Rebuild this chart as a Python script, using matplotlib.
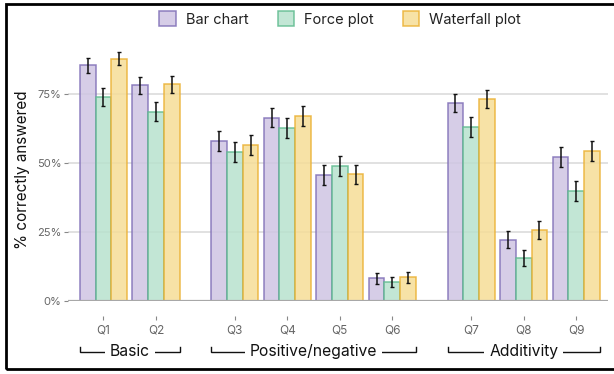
import matplotlib
matplotlib.use("Agg")
import matplotlib.pyplot as plt
import matplotlib.transforms as mtransforms
from matplotlib.patches import Patch, Rectangle
import numpy as np

plt.rcParams['font.family'] = ['Inter', 'DejaVu Sans']

questions = ["Q1", "Q2", "Q3", "Q4", "Q5", "Q6", "Q7", "Q8", "Q9"]
positions = [0, 1, 2.5, 3.5, 4.5, 5.5, 7, 8, 9]

series_names = ["Bar chart", "Force plot", "Waterfall plot"]
bar_chart = [85.3, 78.1, 57.8, 66.3, 45.7, 8.3, 71.6, 22.2, 52.1]
force_plot = [73.8, 68.5, 53.8, 62.5, 48.8, 6.8, 62.9, 15.5, 39.7]
waterfall_plot = [87.7, 78.5, 56.4, 66.9, 45.8, 8.6, 73.1, 25.6, 54.2]

bar_chart_err = [2.6, 3.1, 3.6, 3.5, 3.7, 2.0, 3.3, 3.0, 3.7]
force_plot_err = [3.3, 3.5, 3.6, 3.6, 3.7, 1.9, 3.6, 2.8, 3.6]
waterfall_plot_err = [2.4, 3.1, 3.6, 3.5, 3.5, 2.0, 3.3, 3.2, 3.6]

groups = ["Basic", "Positive/negative", "Additivity"]
group_spans = [(0, 1), (2.5, 5.5), (7, 9)]

edge_colors = ["#7E6DB6", "#5DBB8E", "#EBB031"]
face_colors = ["#CFC5E3", "#B8E2CE", "#F6DD97"]

fig = plt.figure(figsize=(6.14, 3.74), dpi=100)
W, H = 614, 374
ax = fig.add_axes([68 / W, 1 - 301 / H, (608 - 68) / W, (301 - 33) / H])

width = 0.3
x = np.array(positions)
values = [bar_chart, force_plot, waterfall_plot]
errors = [bar_chart_err, force_plot_err, waterfall_plot_err]

for yv in [25, 50, 75, 100]:
    ax.axhline(yv, color="#dcdcdc", lw=1.2, zorder=0)

for i, (vals, errs) in enumerate(zip(values, errors)):
    xs = x + (i - 1) * width
    ax.bar(xs, vals, width=width, facecolor=face_colors[i], alpha=0.85,
           edgecolor=edge_colors[i], linewidth=1.1, zorder=2)
    ax.errorbar(xs, vals, yerr=errs, fmt="none", ecolor="#111111",
                elinewidth=1.1, capsize=1.6, capthick=1.0, zorder=4)

ax.axhline(0, color="#a8a8a8", lw=1.6, zorder=3)

ax.set_xlim(-0.674, 9.604)
ax.set_ylim(0, 97)
ax.set_yticks([0, 25, 50, 75])
ax.set_yticklabels(["0%", "25%", "50%", "75%"])
ax.set_xticks(positions)
ax.set_xticklabels(questions)

for s in ["top", "right", "left"]:
    ax.spines[s].set_visible(False)
ax.spines["bottom"].set_position(("outward", 11))
ax.spines["bottom"].set_visible(False)

ax.tick_params(axis="y", length=3, width=0.8, color="#888888",
               labelsize=8, labelcolor="#666666", pad=1.5)
ax.tick_params(axis="x", length=3, width=0.8, color="#888888",
               labelsize=8.5, labelcolor="#666666", pad=3)

fig.text(22.5 / W, 1 - 170 / H, "% correctly answered", rotation=90,
         ha="center", va="center", fontsize=11, color="#111111")

# group brackets beneath the question labels
trans = mtransforms.blended_transform_factory(ax.transData, fig.transFigure)
y_line = 1 - 351.5 / H
y_hook = 1 - 346.5 / H
for name, (a, b) in zip(groups, group_spans):
    x0, x1 = a - 0.45, b + 0.45
    ax.plot([x0, x0, x1, x1], [y_hook, y_line, y_line, y_hook],
            transform=trans, color="#111111", lw=1.0, clip_on=False,
            solid_joinstyle="miter")
    ax.text((x0 + x1) / 2, y_line, name, transform=trans, ha="center",
            va="center", fontsize=11.3, color="#111111",
            bbox=dict(facecolor="white", edgecolor="none", pad=3.5))

handles = [Patch(facecolor=face_colors[i], edgecolor=edge_colors[i],
                 linewidth=1.1, alpha=0.85, label=series_names[i])
           for i in range(3)]
fig.legend(handles=handles, loc="center", bbox_to_anchor=(340 / W, 1 - 19 / H),
           ncol=3, frameon=False, fontsize=10.5, handlelength=1.1,
           handleheight=1.2, handletextpad=0.7, columnspacing=2.0,
           labelcolor="#222222")

fig.add_artist(Rectangle((6 / W, 1 - 369 / H), 1.0, (369 - 4) / H,
                         transform=fig.transFigure, fill=False,
                         edgecolor="black", linewidth=2.0))

fig.savefig("out.png", dpi=100)
